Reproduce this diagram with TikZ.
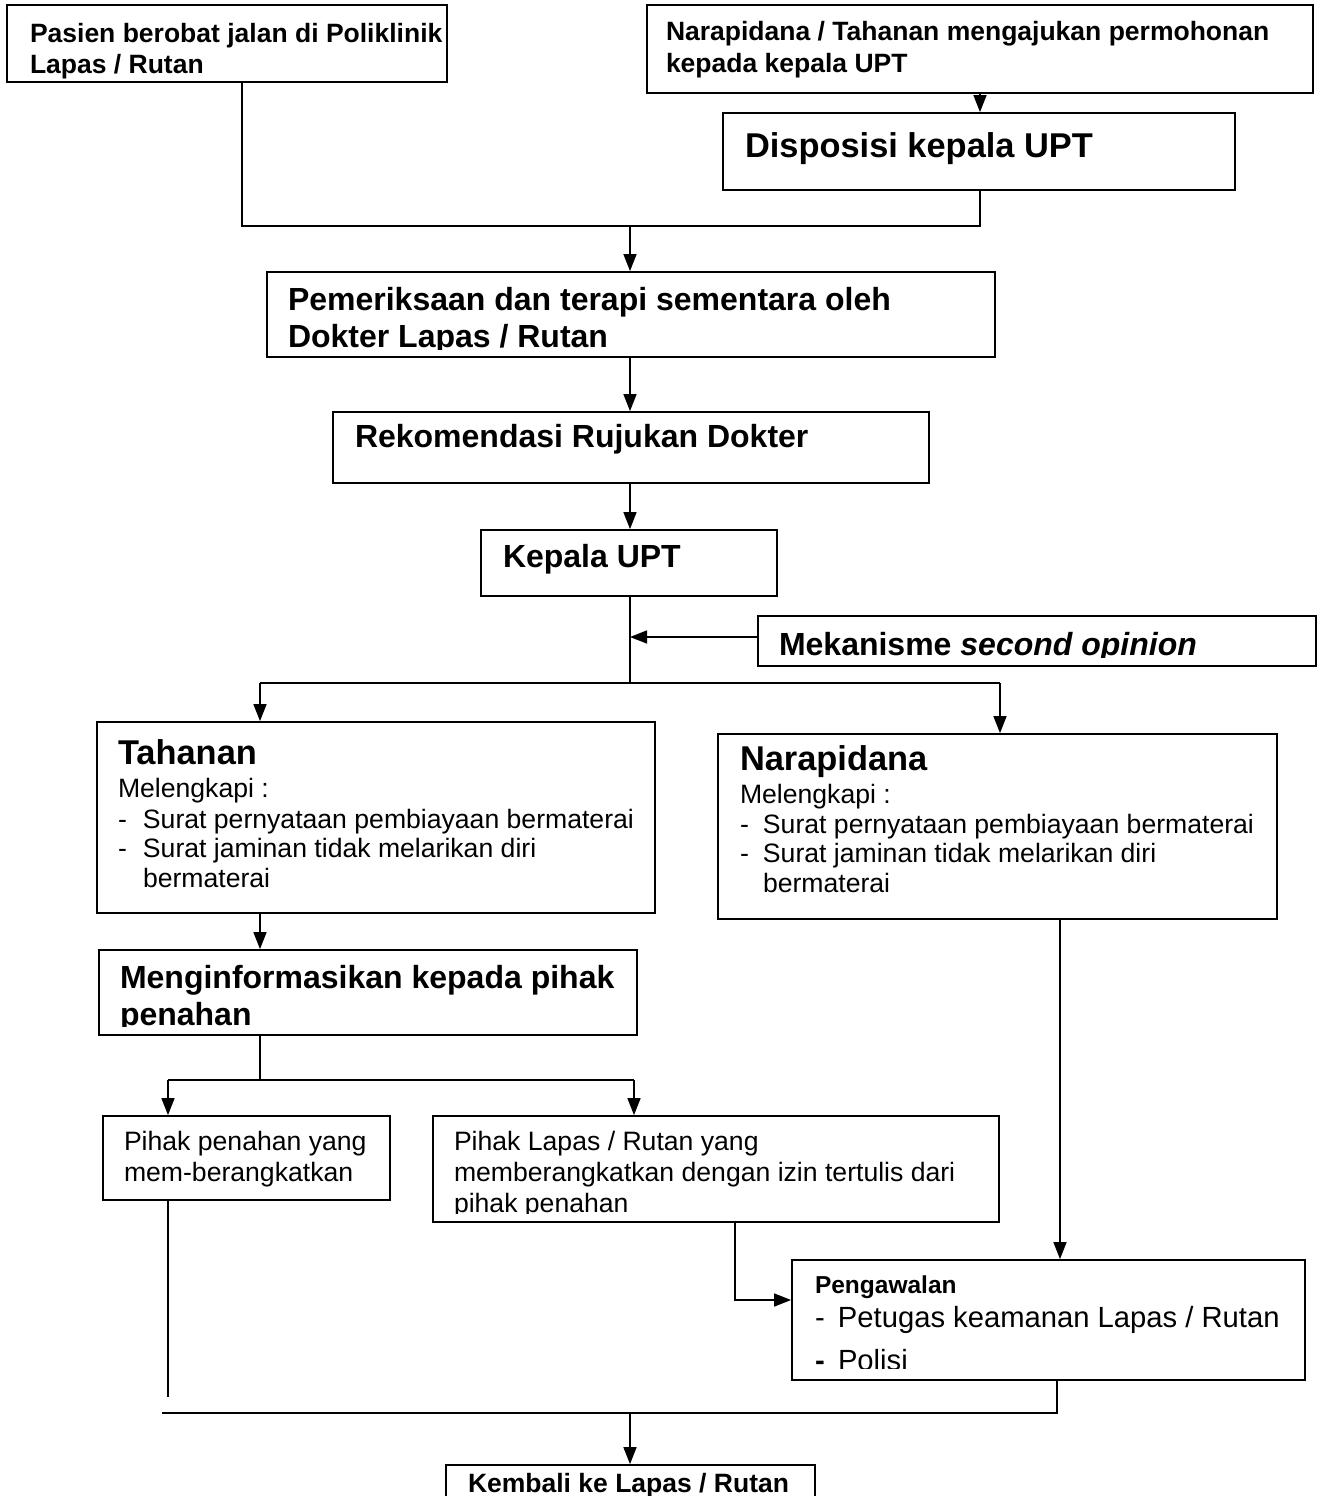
\documentclass[tikz,border=0pt]{standalone}
\usepackage{fontspec}
\setmainfont{Liberation Sans}
\usetikzlibrary{arrows.meta,fit}

% font sizes used in the flow chart
\newcommand\fBsm{\fontsize{26.5}{30}\selectfont\bfseries}
\newcommand\fBmd{\fontsize{32}{37}\selectfont\bfseries}
\newcommand\fBlg{\fontsize{34.4}{40}\selectfont\bfseries}
\newcommand\fRsm{\fontsize{26.6}{30}\selectfont}
\newcommand\fBpg{\fontsize{24.5}{28}\selectfont\bfseries}
\newcommand\fRpg{\fontsize{29.2}{34}\selectfont}

\tikzset{
  box/.style={draw, line width=1.8pt, inner sep=0pt, fill=white},
  conn/.style={line width=1.5pt},
  arr/.style={conn, -{Triangle[length=17pt,width=13pt]}},
  txt/.style={anchor=base west, inner sep=0pt, outer sep=0pt},
}

\begin{document}
\begin{tikzpicture}[x=1pt,y=-1pt]
\useasboundingbox (0,0) rectangle (1321,1496);
\fill[white] (0,0) rectangle (1321,1496);

% ---------- boxes ----------
\node[box, fit={(7,5) (447,82)}] (pasien) {};
\node[box, fit={(647,5) (1313,93)}] (mohon) {};
\node[box, fit={(723,113) (1235,190)}] (dispo) {};
\node[box, fit={(267,272) (995,357)}] (periksa) {};
\node[box, fit={(333,412) (929,483)}] (rekom) {};
\node[box, fit={(481,530) (777,596)}] (kepala) {};
\node[box, fit={(758,616) (1316,666)}] (second) {};
\node[box, fit={(97,722) (655,913)}] (tahanan) {};
\node[box, fit={(718,734) (1277,919)}] (napi) {};
\node[box, fit={(99,950) (637,1035)}] (inform) {};
\node[box, fit={(103,1116) (390,1200)}] (penahan) {};
\node[box, fit={(433,1116) (999,1222)}] (lapas) {};
\node[box, fit={(792,1260) (1305,1380)}] (kawal) {};
\node[box, fit={(446,1465) (815,1520)}] (kembali) {};

% ---------- texts (clipped to the text area of their boxes) ----------
\begin{scope}
\clip ([yshift=4pt]pasien.south west) rectangle (pasien.north east);
\node[txt] (pasien-a) at (30,43) {\fBsm Pasien berobat jalan di Poliklinik};
\node[txt] (pasien-b) at (30,74) {\fBsm Lapas / Rutan};
\end{scope}

\begin{scope}
\clip (mohon.south west) rectangle (mohon.north east);
\node[txt] (mohon-a) at (666,41) {\fBsm Narapidana / Tahanan mengajukan permohonan};
\node[txt] (mohon-b) at (666,72) {\fBsm kepada kepala UPT};
\end{scope}

\begin{scope}
\clip (dispo.south west) rectangle (dispo.north east);
\node[txt] (dispo-a) at (745,157) {\fBlg Disposisi kepala UPT};
\end{scope}

\begin{scope}
\clip ([yshift=8pt]periksa.south west) rectangle (periksa.north east);
\node[txt] (periksa-a) at (288,310) {\fBmd Pemeriksaan dan terapi sementara oleh};
\node[txt] (periksa-b) at (288,347) {\fBmd Dokter Lapas / Rutan};
\end{scope}

\begin{scope}
\clip (rekom.south west) rectangle (rekom.north east);
\node[txt] (rekom-a) at (355,447) {\fBmd Rekomendasi Rujukan Dokter};
\end{scope}

\begin{scope}
\clip (kepala.south west) rectangle (kepala.north east);
\node[txt] (kepala-a) at (503,567) {\fBmd Kepala UPT};
\end{scope}

\begin{scope}
\clip ([yshift=9pt]second.south west) rectangle (second.north east);
\node[txt] (second-a) at (779,655) {\fBmd Mekanisme \textit{second opinion}};
\end{scope}

\begin{scope}
\clip (tahanan.south west) rectangle (tahanan.north east);
\node[txt] (tahanan-a) at (118,764) {\fBlg Tahanan};
\node[txt] (tahanan-b) at (118,797) {\fRsm Melengkapi :};
\node[txt] (tahanan-c) at (118,828) {\fRsm\makebox[25pt][l]{-}Surat pernyataan pembiayaan bermaterai};
\node[txt] (tahanan-d) at (118,857) {\fRsm\makebox[25pt][l]{-}Surat jaminan tidak melarikan diri};
\node[txt] (tahanan-e) at (143,887) {\fRsm bermaterai};
\end{scope}

\begin{scope}
\clip (napi.south west) rectangle (napi.north east);
\node[txt] (napi-a) at (740,770) {\fBlg Narapidana};
\node[txt] (napi-b) at (740,803) {\fRsm Melengkapi :};
\node[txt] (napi-c) at (740,833) {\fRsm\makebox[23pt][l]{-}Surat pernyataan pembiayaan bermaterai};
\node[txt] (napi-d) at (740,862) {\fRsm\makebox[23pt][l]{-}Surat jaminan tidak melarikan diri};
\node[txt] (napi-e) at (763,892) {\fRsm bermaterai};
\end{scope}

\begin{scope}
\clip ([yshift=9pt]inform.south west) rectangle (inform.north east);
\node[txt] (inform-a) at (120,988) {\fBmd Menginformasikan kepada pihak};
\node[txt] (inform-b) at (120,1025) {\fBmd penahan};
\end{scope}

\begin{scope}
\clip (penahan.south west) rectangle (penahan.north east);
\node[txt] (penahan-a) at (124,1150) {\fRsm Pihak penahan yang};
\node[txt] (penahan-b) at (124,1181) {\fRsm mem-berangkatkan};
\end{scope}

\begin{scope}
\clip ([yshift=9pt]lapas.south west) rectangle (lapas.north east);
\node[txt] (lapas-a) at (454,1150) {\fRsm Pihak Lapas / Rutan yang};
\node[txt] (lapas-b) at (454,1181) {\fRsm memberangkatkan dengan izin tertulis dari};
\node[txt] (lapas-c) at (454,1212) {\fRsm pihak penahan};
\end{scope}

\begin{scope}
\clip ([yshift=12pt]kawal.south west) rectangle (kawal.north east);
\node[txt] (kawal-a) at (815,1293) {\fBpg Pengawalan};
\node[txt] (kawal-b) at (815,1327) {\fRpg\makebox[23pt][l]{-}Petugas keamanan Lapas / Rutan};
\node[txt] (kawal-c) at (815,1370) {\fRpg\makebox[23pt][l]{\textbf{-}}Polisi};
\end{scope}

\begin{scope}
\clip (kembali.south west) rectangle (kembali.north east);
\node[txt] (kembali-a) at (468,1492) {\fBsm Kembali ke Lapas / Rutan};
\end{scope}

% ---------- junction points ----------
\coordinate (jA) at (242,226);
\coordinate (jB) at (980,226);
\coordinate (jM) at (630,226);
\coordinate (jK) at (630,683);
\coordinate (jKl) at (260,683);
\coordinate (jKr) at (1000,683);
\coordinate (sop) at ([yshift=4pt]second.west);
\coordinate (jI) at (260,1080);
\coordinate (jIl) at (168,1080);
\coordinate (jIr) at (634,1080);
\coordinate (jL) at (735,1300);
\coordinate (xN) at (1060,1260);
\coordinate (eP) at (168,1397);
\coordinate (jEr) at (1057,1413);
\coordinate (jEl) at (162,1413);
\coordinate (jEm) at (630,1413);

% ---------- connectors ----------
\draw[conn] (pasien.south -| jA) -- (jA) -- (jB) -- (dispo.south -| jB);
\draw[arr] (mohon.south -| jB) -- (dispo.north -| jB);
\draw[arr] (jM) -- (periksa.north -| jM);
\draw[arr] (periksa.south -| jM) -- (rekom.north -| jM);
\draw[arr] (rekom.south -| jM) -- (kepala.north -| jM);
\draw[conn] (kepala.south -| jK) -- (jK);
\draw[arr] (sop) -- (sop -| jK);
\draw[conn] (jKl) -- (jKr);
\draw[arr] (jKl) -- (tahanan.north -| jKl);
\draw[arr] (jKr) -- (napi.north -| jKr);
\draw[arr] (tahanan.south -| jKl) -- (inform.north -| jKl);
\draw[conn] (inform.south -| jI) -- (jI);
\draw[conn] (jIl) -- (jIr);
\draw[arr] (jIl) -- (penahan.north -| jIl);
\draw[arr] (jIr) -- (lapas.north -| jIr);
\draw[arr] (lapas.south -| jL) -- (jL) -- (kawal.west |- jL);
\draw[arr] (napi.south -| xN) -- (kawal.north -| xN);
\draw[conn] (penahan.south -| eP) -- (eP);
\draw[conn] (kawal.south -| jEr) -- (jEr) -- (jEl);
\draw[arr] (jEm) -- (kembali.north -| jEm);

\end{tikzpicture}
\end{document}
